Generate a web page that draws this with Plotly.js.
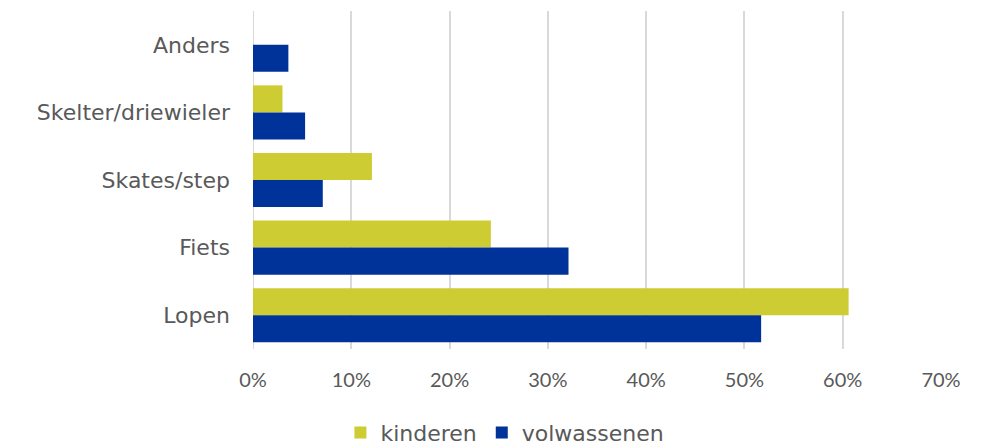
<!DOCTYPE html>
<html>
<head>
<meta charset="utf-8">
<script src="https://cdn.plot.ly/plotly-3.0.1.min.js"></script>
<style>html,body{margin:0;padding:0;background:#fff;}#chart{width:992px;height:446px;}</style>
</head>
<body>
<div id="chart"></div>
<script>
var categories = ["Anders", "Skelter/driewieler", "Skates/step", "Fiets", "Lopen"];
var kinderen = [0, 0.030, 0.121, 0.242, 0.606];
var volwassenen = [0.036, 0.053, 0.071, 0.321, 0.517];
var seriesNames = ["kinderen", "volwassenen"];
var tickVals = [0, 0.1, 0.2, 0.3, 0.4, 0.5, 0.6, 0.7];
var tickText = ["0%", "10%", "20%", "30%", "40%", "50%", "60%", "70%"];

var labelFont = "'DejaVu Sans', 'Liberation Sans', sans-serif";
var tickFont = "Lato, 'Open Sans', 'Liberation Sans', sans-serif";
var data = [
  {type: "bar", orientation: "h", name: seriesNames[0], y: categories, x: kinderen,
   marker: {color: "#cdcd33"}, hoverinfo: "x+y"},
  {type: "bar", orientation: "h", name: seriesNames[1], y: categories, x: volwassenen,
   marker: {color: "#003399"}, hoverinfo: "x+y"}
];
var layout = {
  width: 992, height: 446,
  margin: {l: 253, r: 51, t: 11, b: 97},
  paper_bgcolor: "#fff", plot_bgcolor: "#fff",
  barmode: "group", bargap: 0.2, bargroupgap: 0,
  font: {family: labelFont, color: "#595959", size: 20},
  xaxis: {range: [0, 0.7], tickvals: tickVals, ticktext: tickText,
          showgrid: true, gridcolor: "#d9d9d9", gridwidth: 2, zeroline: false,
          showline: false, ticks: "", tickfont: {family: tickFont, size: 20, color: "#595959"}, ticklabelstandoff: 17},
  yaxis: {type: "category", autorange: "reversed", showgrid: false, zeroline: false,
          showline: false, ticks: "", tickfont: {family: labelFont, size: 22, color: "#595959"}, ticklabelstandoff: 22},
  shapes: [{type: "line", xref: "x", yref: "paper", x0: 0, x1: 0, y0: 0, y1: 1,
            line: {color: "#d9d9d9", width: 2}, layer: "below"}],
  showlegend: true,
  legend: {orientation: "h", xref: "container", yref: "container", x: 0.509, xanchor: "center",
           y: 0.03, yanchor: "middle", font: {family: labelFont, size: 22, color: "#595959"}, itemwidth: 30,
           traceorder: "normal"}
};
Plotly.newPlot("chart", data, layout, {displayModeBar: false, staticPlot: true});
</script>
</body>
</html>
